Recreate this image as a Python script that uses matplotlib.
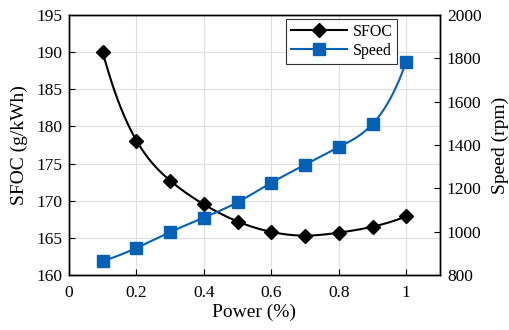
import numpy as np
from matplotlib import pyplot as plt

power = [0.1, 0.2, 0.3, 0.4, 0.5, 0.6, 0.7, 0.8, 0.9, 1.0]
sfoc = [190.0, 178.1, 172.7, 169.5, 167.2, 165.8, 165.3, 165.7, 166.5, 167.9]
speed = [865, 925, 998, 1065, 1136, 1226, 1309, 1390, 1497, 1785]

x_ticks = [0, 0.2, 0.4, 0.6, 0.8, 1]
x_ticklabels = ['0', '0.2', '0.4', '0.6', '0.8', '1']
sfoc_ticks = [160, 165, 170, 175, 180, 185, 190, 195]
speed_ticks = [800, 1000, 1200, 1400, 1600, 1800, 2000]

blue = '#0461b5'


def spline(x, y, xs):
    # not-a-knot cubic spline, only for drawing the smooth line through the markers
    x = np.asarray(x, float)
    y = np.asarray(y, float)
    n = len(x)
    h = np.diff(x)
    A = np.zeros((n, n))
    b = np.zeros(n)
    A[0, 0:3] = [h[1], -(h[0] + h[1]), h[0]]
    A[-1, -3:] = [h[-1], -(h[-2] + h[-1]), h[-2]]
    for i in range(1, n - 1):
        A[i, i - 1] = h[i - 1]
        A[i, i] = 2 * (h[i - 1] + h[i])
        A[i, i + 1] = h[i]
        b[i] = 6 * ((y[i + 1] - y[i]) / h[i] - (y[i] - y[i - 1]) / h[i - 1])
    m = np.linalg.solve(A, b)
    idx = np.clip(np.searchsorted(x, xs) - 1, 0, n - 2)
    t = xs - x[idx]
    hi = h[idx]
    a = (m[idx + 1] - m[idx]) / (6 * hi)
    bb = m[idx] / 2
    c = (y[idx + 1] - y[idx]) / hi - hi * (2 * m[idx] + m[idx + 1]) / 6
    return y[idx] + c * t + bb * t ** 2 + a * t ** 3


plt.rcParams['font.family'] = ['Liberation Serif', 'DejaVu Serif']

fig = plt.figure(figsize=(5.1, 3.3), dpi=100)
ax1 = fig.add_axes([69 / 510, 1 - 275 / 330, 371 / 510, 260 / 330])
ax2 = ax1.twinx()

xs = np.linspace(power[0], power[-1], 300)
ax1.plot(xs, spline(power, sfoc, xs), color='black', lw=1.5, zorder=3)
ax1.plot(power, sfoc, 'D', color='black', ms=7, zorder=4)
ax2.plot(xs, spline(power, speed, xs), color=blue, lw=1.5, zorder=3)
ax2.plot(power, speed, 's', color=blue, ms=8.5, zorder=4)

ax1.set_xlim(0, 1.1)
ax1.set_ylim(160, 195)
ax2.set_ylim(800, 2000)
ax1.set_xticks(x_ticks)
ax1.set_xticklabels(x_ticklabels)
ax1.set_yticks(sfoc_ticks)
ax2.set_yticks(speed_ticks)
ax1.grid(True, color='#e0e0e0', lw=0.9)
ax1.set_axisbelow(True)

for a in (ax1, ax2):
    a.tick_params(direction='in', length=4, width=0.8, labelsize=12.5, pad=5)
    for s in a.spines.values():
        s.set_linewidth(1.0)
ax1.tick_params(axis='x', pad=7)

ax1.set_xlabel('Power (%)', fontsize=14, labelpad=2)
ax1.set_ylabel('SFOC (g/kWh)', fontsize=14, labelpad=6)
ax2.set_ylabel('Speed (rpm)', fontsize=14, labelpad=7)

h1 = ax1.plot([], [], '-D', color='black', lw=1.5, ms=7)[0]
h2 = ax1.plot([], [], '-s', color=blue, lw=1.5, ms=8.5)[0]
leg = ax2.legend([h1, h2], ['SFOC', 'Speed'], loc='upper right',
                 bbox_to_anchor=(0.885, 0.985), fontsize=11.5, frameon=True,
                 fancybox=False, edgecolor='#333333', framealpha=1,
                 handlelength=3.5, borderpad=0.3, labelspacing=0.2,
                 handletextpad=0.35, borderaxespad=0)
leg.get_frame().set_linewidth(0.8)

fig.savefig('out.png', dpi=100)
